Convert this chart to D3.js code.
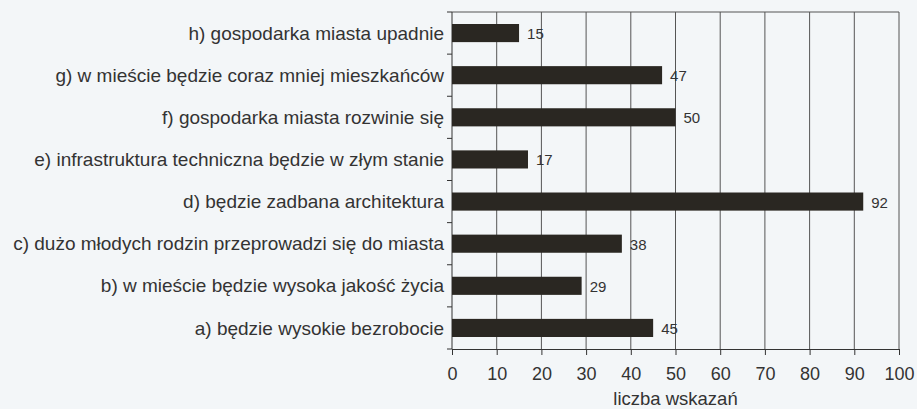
<!DOCTYPE html>
<html>
<head>
<meta charset="utf-8">
<script src="https://cdn.jsdelivr.net/npm/d3@7"></script>
<style>
  html, body { margin: 0; padding: 0; background: #f3f6f8; }
</style>
</head>
<body>
<div id="container"></div>
<script>
const width = 917;
const height = 409;
const font = "'Liberation Sans', Arial, sans-serif";

const categories = [
  'h) gospodarka miasta upadnie',
  'g) w mieście będzie coraz mniej mieszkańców',
  'f) gospodarka miasta rozwinie się',
  'e) infrastruktura techniczna będzie w złym stanie',
  'd) będzie zadbana architektura',
  'c) dużo młodych rodzin przeprowadzi się do miasta',
  'b) w mieście będzie wysoka jakość życia',
  'a) będzie wysokie bezrobocie'
];
const values = [15, 47, 50, 17, 92, 38, 29, 45];
const xTicks = [0, 10, 20, 30, 40, 50, 60, 70, 80, 90, 100];
const xTitle = 'liczba wskazań';

const margin = { top: 12, right: 18, bottom: 60, left: 452 };

const x = d3.scaleLinear().domain([0, 100]).range([margin.left, width - margin.right]);
const y = d3.scaleBand().domain(categories).range([margin.top, height - margin.bottom]).paddingInner(0.57).paddingOuter(0.285);

const svg = d3.select('#container')
  .append('svg')
  .attr('width', width)
  .attr('height', height)
  .style('font-family', font);

svg.append('rect')
  .attr('width', width)
  .attr('height', height)
  .attr('fill', '#f3f6f8');

// vertical gridlines
svg.append('g')
  .selectAll('line')
  .data(xTicks.slice(1))
  .join('line')
  .attr('x1', d => x(d))
  .attr('x2', d => x(d))
  .attr('y1', margin.top)
  .attr('y2', height - margin.bottom)
  .attr('stroke', '#555')
  .attr('stroke-width', 1);

// top border
svg.append('line')
  .attr('x1', x(0)).attr('x2', x(100))
  .attr('y1', margin.top).attr('y2', margin.top)
  .attr('stroke', '#555');

// bottom axis
svg.append('g')
  .attr('transform', `translate(0,${height - margin.bottom})`)
  .call(d3.axisBottom(x).tickValues(xTicks).tickSize(6).tickSizeOuter(0).tickPadding(12))
  .call(g => g.select('.domain').attr('stroke', '#333'))
  .call(g => g.selectAll('.tick line').attr('stroke', '#333'))
  .call(g => g.selectAll('.tick text')
    .attr('font-size', 18)
    .attr('fill', '#333')
    .style('font-family', font));

// left axis line with boundary ticks
const step = y.step();
const bounds = d3.range(categories.length + 1).map(i => margin.top + i * step);
svg.append('line')
  .attr('x1', x(0)).attr('x2', x(0))
  .attr('y1', margin.top).attr('y2', height - margin.bottom)
  .attr('stroke', '#333');
svg.append('g')
  .selectAll('line')
  .data(bounds)
  .join('line')
  .attr('x1', x(0) - 5)
  .attr('x2', x(0))
  .attr('y1', d => d)
  .attr('y2', d => d)
  .attr('stroke', '#333');

// category labels
svg.append('g')
  .selectAll('text')
  .data(categories)
  .join('text')
  .attr('x', x(0) - 8)
  .attr('y', d => y(d) + y.bandwidth() / 2)
  .attr('dy', '0.35em')
  .attr('text-anchor', 'end')
  .attr('font-size', 19)
  .attr('fill', '#333')
  .text(d => d);

// bars
svg.append('g')
  .selectAll('rect')
  .data(values)
  .join('rect')
  .attr('x', x(0))
  .attr('y', (d, i) => y(categories[i]))
  .attr('width', d => x(d) - x(0))
  .attr('height', y.bandwidth())
  .attr('fill', '#2a2722');

// value labels
svg.append('g')
  .selectAll('text')
  .data(values)
  .join('text')
  .attr('x', d => x(d) + 8)
  .attr('y', (d, i) => y(categories[i]) + y.bandwidth() / 2)
  .attr('dy', '0.4em')
  .attr('font-size', 15)
  .attr('fill', '#333')
  .text(d => d);

// axis title
svg.append('text')
  .attr('x', (x(0) + x(100)) / 2)
  .attr('y', 405)
  .attr('text-anchor', 'middle')
  .attr('font-size', 18.5)
  .attr('fill', '#333')
  .text(xTitle);
</script>
</body>
</html>
